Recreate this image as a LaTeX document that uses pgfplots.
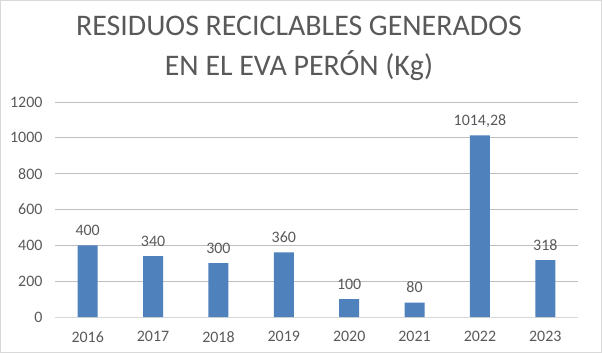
\documentclass[border=0pt]{standalone}
\usepackage{fontspec}
\setmainfont{Carlito}
\usepackage{pgfplots}
\pgfplotsset{compat=1.18}
\usepackage{pgfplotstable}
\definecolor{txt}{HTML}{595959}
\definecolor{grid}{HTML}{D9D9D9}
\definecolor{bar}{HTML}{4F81BD}
\pgfplotstableread{
x y lab
0 400 400
1 340 340
2 300 300
3 360 360
4 100 100
5 80 80
6 1014.28 {1014,28}
7 318 318
}\datatable
\begin{document}
\begin{tikzpicture}
\path[use as bounding box] (0,0) rectangle (602bp,353bp);
\draw[grid, line width=0.75bp] (0.5bp,0.5bp) rectangle (601.5bp,352.5bp);
\node[txt, font=\fontsize{30}{40}\selectfont, align=center, anchor=center] at (299bp,305bp) {RESIDUOS RECICLABLES GENERADOS\\EN EL EVA PERÓN (Kg)};
\begin{axis}[
  at={(55bp,36bp)}, anchor=south west,
  scale only axis, width=523bp, height=215bp,
  xmin=-0.5, xmax=7.5, ymin=0, ymax=1200,
  ytick={0,200,...,1200},
  xtick={0,...,7},
  xticklabels={2016,2017,2018,2019,2020,2021,2022,2023},
  xmajorgrids=false, ymajorgrids=true, grid style={grid, line width=0.75bp},
  axis line style={draw=none},
  axis x line*=bottom,
  x axis line style={draw=grid, line width=0.75bp},
  major tick length=0pt,
  xtick style={draw=none}, ytick style={draw=none},
  tick label style={txt, font=\fontsize{16}{18}\selectfont},
  /pgf/number format/assume math mode=true,
  /pgf/number format/1000 sep={},
  yticklabel style={xshift=-9bp},
  xticklabel style={yshift=-11bp},
  clip=false,
]
\addplot[ybar, bar width=20bp, fill=bar, draw=none,
  point meta=explicit symbolic,
  nodes near coords,
  every node near coord/.append style={txt, font=\fontsize{16}{18}\selectfont, anchor=base, yshift=10bp}
] table[x=x, y=y, meta=lab] {\datatable};
\end{axis}
\end{tikzpicture}
\end{document}
